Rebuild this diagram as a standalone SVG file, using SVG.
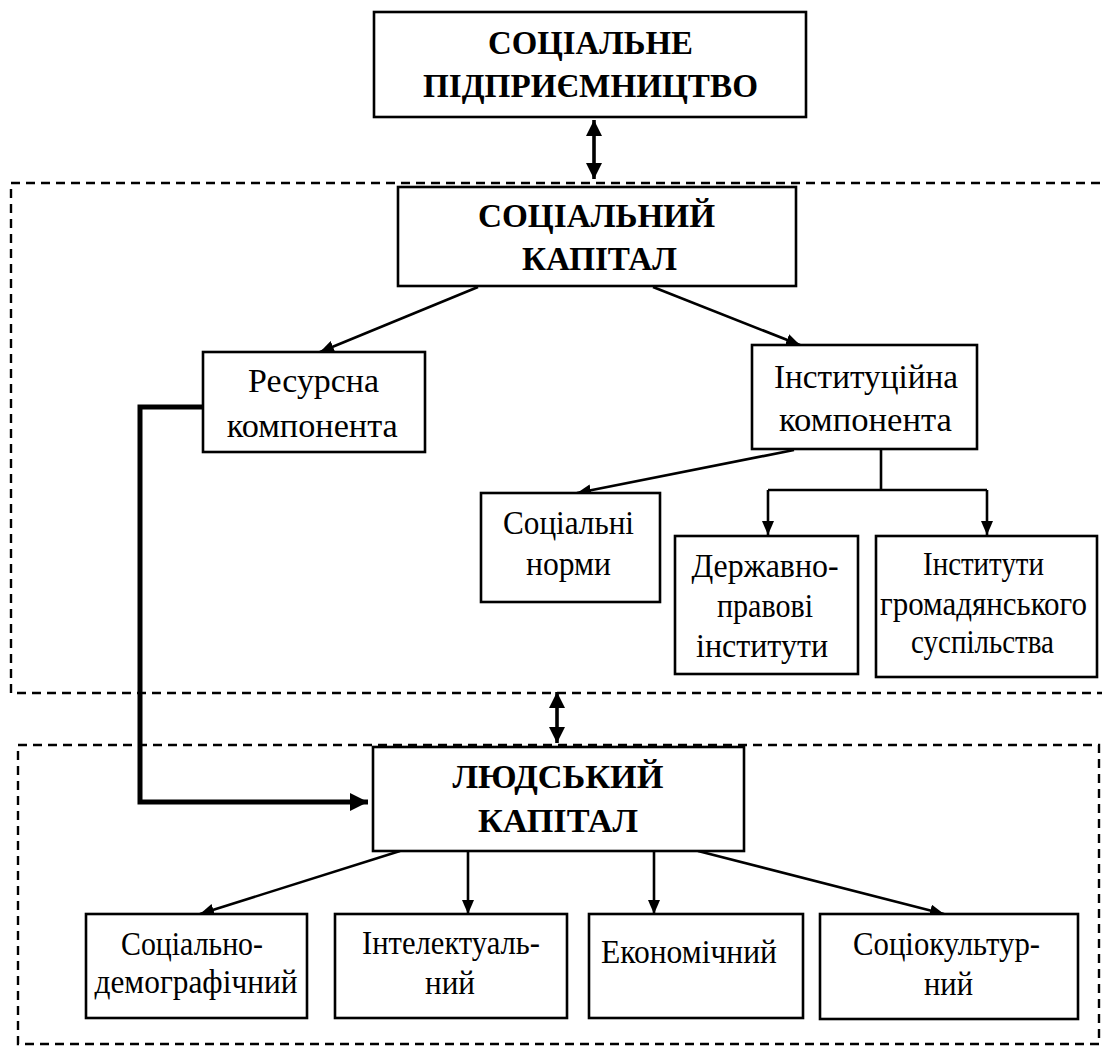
<svg xmlns="http://www.w3.org/2000/svg" width="1102" height="1046" viewBox="0 0 1102 1046">
<style>
.box{fill:#fff;stroke:#000;stroke-width:2.6}
.dash{fill:none;stroke:#000;stroke-width:2.4;stroke-dasharray:9 6}
.t{font-family:"Liberation Serif","Times New Roman",serif;font-size:33px;text-anchor:middle;fill:#000}
.b{font-weight:bold}
.c{fill:none;stroke:#000;stroke-width:2.6}
.cd{fill:none;stroke:#000;stroke-width:3.6}
.ct{fill:none;stroke:#000;stroke-width:5}
</style>
<defs>
<marker id="ah" markerUnits="userSpaceOnUse" markerWidth="14" markerHeight="12" refX="14" refY="6" orient="auto"><path d="M0,0 L14,6 L0,12 z" fill="#000"/></marker>
<marker id="dh" markerUnits="userSpaceOnUse" markerWidth="16" markerHeight="16" refX="16" refY="8" orient="auto-start-reverse"><path d="M0,0 L16,8 L0,16 z" fill="#000"/></marker>
<marker id="th" markerUnits="userSpaceOnUse" markerWidth="18" markerHeight="18" refX="18" refY="9" orient="auto"><path d="M0,0 L18,9 L0,18 z" fill="#000"/></marker>
</defs>
<g id="groups">
<rect id="group-social" class="dash" x="11" y="183" width="1095" height="510"/>
<rect id="group-human" class="dash" x="18" y="745" width="1081" height="299"/>
</g>
<g id="connectors">
<line class="cd" x1="594" y1="120" x2="594" y2="179" marker-start="url(#dh)" marker-end="url(#dh)"/>
<line class="cd" x1="557" y1="692" x2="557" y2="743" marker-start="url(#dh)" marker-end="url(#dh)"/>
<line class="c" x1="478" y1="287" x2="320" y2="352" marker-end="url(#ah)"/>
<line class="c" x1="653" y1="287" x2="800" y2="345" marker-end="url(#ah)"/>
<line class="c" x1="794" y1="450" x2="577" y2="493" marker-end="url(#ah)"/>
<polyline class="c" points="881,450 881,490"/>
<polyline class="c" points="768,490 987,490"/>
<line class="c" x1="768" y1="490" x2="768" y2="535" marker-end="url(#ah)"/>
<line class="c" x1="987" y1="490" x2="987" y2="535" marker-end="url(#ah)"/>
<polyline class="ct" points="203,407 140,407 140,802 368,802" marker-end="url(#th)"/>
<line class="c" x1="400" y1="851" x2="200" y2="914" marker-end="url(#ah)"/>
<line class="c" x1="468" y1="851" x2="468" y2="914" marker-end="url(#ah)"/>
<line class="c" x1="654" y1="851" x2="654" y2="914" marker-end="url(#ah)"/>
<line class="c" x1="698" y1="851" x2="944" y2="914" marker-end="url(#ah)"/>
</g>
<g id="node-social-entrepreneurship">
<rect class="box" x="374" y="12" width="432" height="105"/>
<text class="t b" x="590.5" y="53.5" textLength="205" lengthAdjust="spacingAndGlyphs">СОЦІАЛЬНЕ</text>
<text class="t b" x="590.5" y="96.7" textLength="335" lengthAdjust="spacingAndGlyphs">ПІДПРИЄМНИЦТВО</text>
</g>
<g id="node-social-capital">
<rect class="box" x="398" y="187" width="398" height="99"/>
<text class="t b" x="596.5" y="226.7" textLength="237" lengthAdjust="spacingAndGlyphs">СОЦІАЛЬНИЙ</text>
<text class="t b" x="599.5" y="270" textLength="155" lengthAdjust="spacingAndGlyphs">КАПІТАЛ</text>
</g>
<g id="node-resource">
<rect class="box" x="203" y="352" width="222" height="100"/>
<text class="t" x="313.5" y="391.7" textLength="131" lengthAdjust="spacingAndGlyphs">Ресурсна</text>
<text class="t" x="312.3" y="436.5" textLength="171" lengthAdjust="spacingAndGlyphs">компонента</text>
</g>
<g id="node-institutional">
<rect class="box" x="752" y="345" width="225" height="104"/>
<text class="t" x="866" y="388" textLength="184" lengthAdjust="spacingAndGlyphs">Інституційна</text>
<text class="t" x="865.5" y="431" textLength="173" lengthAdjust="spacingAndGlyphs">компонента</text>
</g>
<g id="node-social-norms">
<rect class="box" x="481" y="493" width="179" height="109"/>
<text class="t" x="568.5" y="534" textLength="131" lengthAdjust="spacingAndGlyphs">Соціальні</text>
<text class="t" x="568.5" y="575" textLength="85" lengthAdjust="spacingAndGlyphs">норми</text>
</g>
<g id="node-state-legal">
<rect class="box" x="675" y="536" width="183" height="138"/>
<text class="t" x="765" y="577" textLength="147" lengthAdjust="spacingAndGlyphs">Державно-</text>
<text class="t" x="765" y="617" textLength="96" lengthAdjust="spacingAndGlyphs">правові</text>
<text class="t" x="762" y="657" textLength="132" lengthAdjust="spacingAndGlyphs">інститути</text>
</g>
<g id="node-civil-society">
<rect class="box" x="876" y="536" width="221" height="141"/>
<text class="t" x="983.5" y="575" textLength="121" lengthAdjust="spacingAndGlyphs">Інститути</text>
<text class="t" x="983.5" y="615" textLength="207" lengthAdjust="spacingAndGlyphs">громадянського</text>
<text class="t" x="982.5" y="653" textLength="143" lengthAdjust="spacingAndGlyphs">суспільства</text>
</g>
<g id="node-human-capital">
<rect class="box" x="373" y="747" width="371" height="104"/>
<text class="t b" x="558" y="788.3" textLength="211" lengthAdjust="spacingAndGlyphs">ЛЮДСЬКИЙ</text>
<text class="t b" x="558" y="831.7" textLength="160" lengthAdjust="spacingAndGlyphs">КАПІТАЛ</text>
</g>
<g id="node-socio-demographic">
<rect class="box" x="86" y="914" width="221" height="104"/>
<text class="t" x="192" y="955" textLength="142" lengthAdjust="spacingAndGlyphs">Соціально-</text>
<text class="t" x="196" y="993.3" textLength="203" lengthAdjust="spacingAndGlyphs">демографічний</text>
</g>
<g id="node-intellectual">
<rect class="box" x="335" y="914" width="232" height="104"/>
<text class="t" x="451" y="954" textLength="178" lengthAdjust="spacingAndGlyphs">Інтелектуаль-</text>
<text class="t" x="450" y="994" textLength="50" lengthAdjust="spacingAndGlyphs">ний</text>
</g>
<g id="node-economic">
<rect class="box" x="589" y="914" width="214" height="104"/>
<text class="t" x="689" y="962.7" textLength="176" lengthAdjust="spacingAndGlyphs">Економічний</text>
</g>
<g id="node-sociocultural">
<rect class="box" x="820" y="914" width="258" height="105"/>
<text class="t" x="946.5" y="955" textLength="187" lengthAdjust="spacingAndGlyphs">Соціокультур-</text>
<text class="t" x="948.5" y="995" textLength="49" lengthAdjust="spacingAndGlyphs">ний</text>
</g>
</svg>
